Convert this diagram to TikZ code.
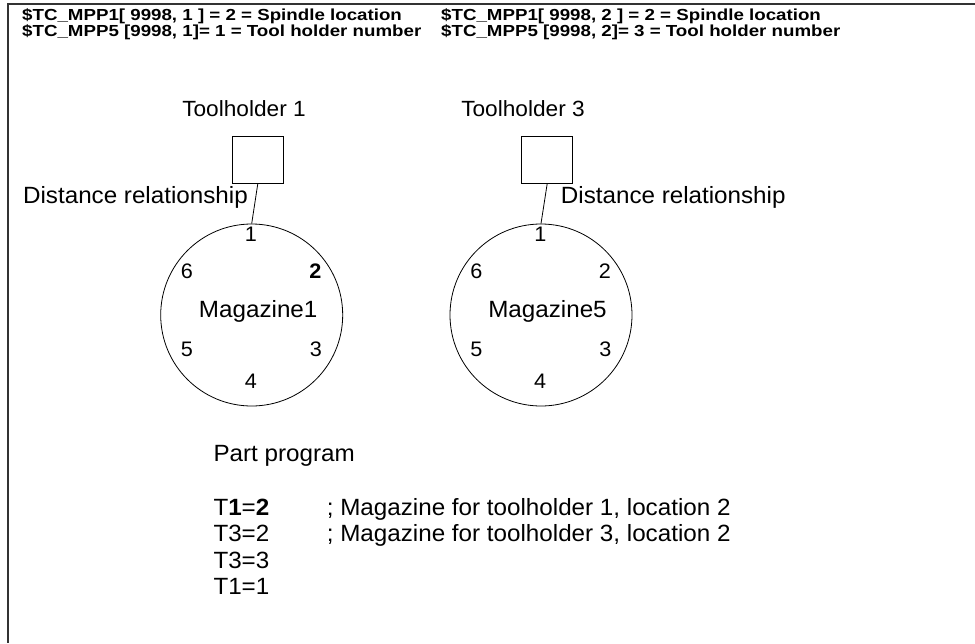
\documentclass[tikz,border=0pt]{standalone}
\usepackage{fontspec}
\setmainfont[FakeStretch=1.03]{Liberation Sans}
\newfontfamily\hdfont[FakeStretch=1.17]{Liberation Sans}
\begin{document}
\begin{tikzpicture}[x=1pt,y=-1pt,
  body/.style={inner sep=0pt,font=\fontsize{23.5}{26}\selectfont},
  label/.style={inner sep=0pt,anchor=base,font=\fontsize{22}{25}\selectfont},
  digit/.style={inner sep=0pt,anchor=base,font=\fontsize{21}{24}\selectfont},
  head/.style={inner sep=0pt,anchor=base west,text height=11.5pt,text depth=3pt,
    font=\hdfont\fontsize{16}{18}\selectfont\bfseries},
  holder/.style={draw,line width=0.8pt,minimum width=51pt,minimum height=46.6pt,inner sep=0pt},
  magazine/.style={draw,circle,line width=0.8pt,minimum size=182pt,inner sep=0pt},
  link/.style={line width=0.8pt}]
\useasboundingbox (0,0) rectangle (975,643);
% open frame: top and left edges
\coordinate (ftl) at (8,4);
\coordinate (ftr) at (975,4);
\coordinate (fbl) at (8,643);
\draw[line width=1.6pt,black!80] (ftr) -- (ftl) -- (fbl);
% machine data header
\node[head] (h1a) at (22,20.5) {\$TC\_MPP1[ 9998, 1 ] = 2 = Spindle location};
\node[head] (h1b) at (22,36) {\$TC\_MPP5 [9998, 1]= 1 = Tool holder number};
\node[head] (h2a) at (441,20.5) {\$TC\_MPP1[ 9998, 2 ] = 2 = Spindle location};
\node[head] (h2b) at (441,36) {\$TC\_MPP5 [9998, 2]= 3 = Tool holder number};
% tool holders
\node[label] (t1) at (244,116) {Toolholder 1};
\node[label] (t3) at (523,116) {Toolholder 3};
\node[holder] (b1) at (257.8,160) {};
\node[holder] (b3) at (547.2,160) {};
% magazines
\node[magazine] (m1) at (251.7,315) {};
\node[magazine] (m5) at (541,315) {};
\draw[link] (b1.south) -- (m1.north);
\draw[link] (b3.south) -- (m5.north);
\node[body,anchor=base east] (d1) at (248,203.3) {Distance relationship};
\node[body,anchor=base west] (d3) at (560.7,203.3) {Distance relationship};
% locations of magazine 1
\node[digit] (m1p1) at (251,241) {1};
\node[digit] (m1p2) at (315.5,278) {\bfseries 2};
\node[digit] (m1p3) at (316,356) {3};
\node[digit] (m1p4) at (250.8,388.3) {4};
\node[digit] (m1p5) at (187,356) {5};
\node[digit] (m1p6) at (187,278) {6};
\node[body,anchor=base] (m1n) at (258.2,317.3) {Magazine1};
% locations of magazine 5
\node[digit] (m5p1) at (540.3,241) {1};
\node[digit] (m5p2) at (604.8,278) {2};
\node[digit] (m5p3) at (605.3,356) {3};
\node[digit] (m5p4) at (540.1,388.3) {4};
\node[digit] (m5p5) at (476.3,356) {5};
\node[digit] (m5p6) at (476.3,278) {6};
\node[body,anchor=base] (m5n) at (547.5,317.3) {Magazine5};
% part program
\node[body,anchor=base west] (pp) at (213.3,461.7) {Part program};
\node[body,anchor=base west] (l1) at (213.3,515) {T\textbf{1}=\textbf{2}};
\node[body,anchor=base west] (l2) at (213.3,541.5) {T3=2};
\node[body,anchor=base west] (l3) at (213.3,568) {T3=3};
\node[body,anchor=base west] (l4) at (213.3,594.5) {T1=1};
\node[body,anchor=base west] (c1) at (326.7,515) {; Magazine for toolholder 1, location 2};
\node[body,anchor=base west] (c2) at (326.7,541.5) {; Magazine for toolholder 3, location 2};
\end{tikzpicture}
\end{document}
